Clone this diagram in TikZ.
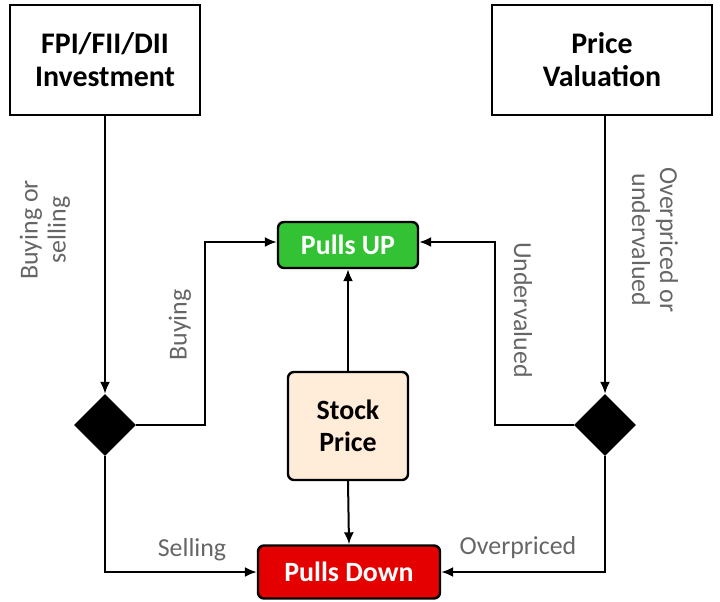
\documentclass[tikz,border=0pt]{standalone}
\usepackage{fontspec}
\setmainfont{Carlito}
\usetikzlibrary{shapes.geometric,arrows.meta}
\begin{document}
\begin{tikzpicture}[x=1bp,y=-1bp,
  box/.style={draw,line width=2.4bp,align=center,font=\fontsize{30}{33}\selectfont\bfseries},
  rbox/.style={draw,line width=2.4bp,rounded corners=6bp,align=center,font=\fontsize{28}{32}\selectfont\bfseries},
  dia/.style={diamond,fill=black,minimum size=62bp,inner sep=0},
  arr/.style={line width=2bp,-{Latex[length=12bp,width=10bp]}},
  lab/.style={text=black!60,font=\fontsize{26}{28}\selectfont,align=center}]
\useasboundingbox (0,0) rectangle (720,602);
\node[box,minimum width=190bp,minimum height=110bp] (fpi) at (105,60) {FPI/FII/DII\\Investment};
\node[box,minimum width=220bp,minimum height=110bp] (pv) at (602,60) {Price\\Valuation};
\node[rbox,fill=green!70!black!80,text=white,minimum width=140bp,minimum height=46bp] (up) at (348,245) {Pulls UP};
\node[rbox,fill=orange!15,minimum width=120bp,minimum height=108bp] (sp) at (348,426) {Stock\\Price};
\node[rbox,fill=red!90!black,text=white,minimum width=182bp,minimum height=53bp] (down) at (349,572) {Pulls Down};
\node[dia] (dl) at (105,425) {};
\node[dia] (dr) at (605,425) {};
\coordinate (c1) at (205,425); \coordinate (c2) at (205,242);
\coordinate (c3) at (495,425); \coordinate (c4) at (495,242);
\coordinate (c5) at (105,572); \coordinate (c6) at (605,572);
\draw[arr] (fpi.south) -- (dl.north);
\draw[arr] (pv.south-|dr) -- (dr.north);
\draw[arr] (dl.east) -- (c1) -- (c2) -- (c2-|up.west);
\draw[arr] (dr.west) -- (c3) -- (c4) -- (c4-|up.east);
\draw[arr] (dl.south) -- (c5) -- (c5-|down.west);
\draw[arr] (dr.south) -- (c6) -- (c6-|down.east);
\draw[arr] (sp.north) -- (up.south);
\draw[arr] (sp.south) -- (down.north);
\node[lab,rotate=90] (l1) at (45,230) {Buying or\\selling};
\node[lab,rotate=-90] (l2) at (655,240) {Overpriced or\\undervalued};
\node[lab,rotate=90] (l3) at (180,325) {Buying};
\node[lab,rotate=-90] (l4) at (523,310) {Undervalued};
\node[lab] (l5) at (192,550) {Selling};
\node[lab] (l6) at (518,548) {Overpriced};
\end{tikzpicture}
\end{document}
